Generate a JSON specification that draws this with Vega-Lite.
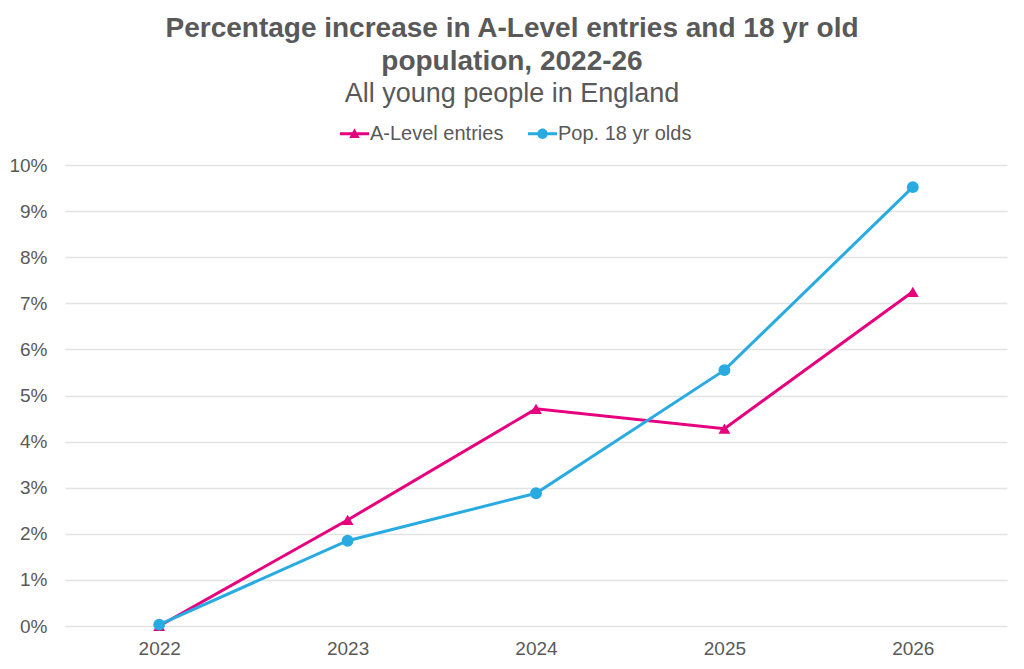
{
  "$schema": "https://vega.github.io/schema/vega-lite/v6.json",
  "width": 942,
  "height": 461,
  "autosize": {"type": "none"},
  "padding": {"left": 65, "top": 165, "right": 17, "bottom": 43},
  "background": "white",
  "title": {
    "text": ["Percentage increase in A-Level entries and 18 yr old", "population, 2022-26"],
    "subtitle": "All young people in England",
    "anchor": "middle",
    "frame": "group",
    "dx": -24,
    "offset": 12,
    "font": "Liberation Sans",
    "fontSize": 28,
    "fontWeight": "bold",
    "color": "#595959",
    "lineHeight": 33,
    "subtitleFont": "Liberation Sans",
    "subtitleFontSize": 27,
    "subtitleColor": "#595959",
    "subtitlePadding": 5
  },
  "data": {
    "values": [
      {"year": "2022", "series": "A-Level entries", "value": 0.0},
      {"year": "2023", "series": "A-Level entries", "value": 0.0230},
      {"year": "2024", "series": "A-Level entries", "value": 0.0471},
      {"year": "2025", "series": "A-Level entries", "value": 0.0428},
      {"year": "2026", "series": "A-Level entries", "value": 0.0725},
      {"year": "2022", "series": "Pop. 18 yr olds", "value": 0.0003},
      {"year": "2023", "series": "Pop. 18 yr olds", "value": 0.0185},
      {"year": "2024", "series": "Pop. 18 yr olds", "value": 0.0288},
      {"year": "2025", "series": "Pop. 18 yr olds", "value": 0.0555},
      {"year": "2026", "series": "Pop. 18 yr olds", "value": 0.0952}
    ]
  },
  "encoding": {
    "x": {
      "field": "year",
      "type": "ordinal",
      "scale": {"type": "point", "padding": 0.5},
      "axis": {
        "title": null,
        "labelAngle": 0,
        "domain": false,
        "ticks": false,
        "labelPadding": 13,
        "labelFont": "Liberation Sans",
        "labelFontSize": 19,
        "labelColor": "#595959"
      }
    },
    "y": {
      "field": "value",
      "type": "quantitative",
      "scale": {"domain": [0, 0.1], "nice": false},
      "axis": {
        "title": null,
        "values": [0, 0.01, 0.02, 0.03, 0.04, 0.05, 0.06, 0.07, 0.08, 0.09, 0.1],
        "format": ".0%",
        "domain": false,
        "ticks": false,
        "labelPadding": 18,
        "labelFont": "Liberation Sans",
        "labelFontSize": 19,
        "labelColor": "#595959",
        "gridColor": "#e3e3e3",
        "gridWidth": 1.3
      }
    },
    "color": {
      "field": "series",
      "type": "nominal",
      "scale": {"domain": ["A-Level entries", "Pop. 18 yr olds"], "range": ["#e6007e", "#29abe2"]},
      "legend": {
        "title": null,
        "orient": "none",
        "legendX": 275,
        "legendY": -46,
        "direction": "horizontal",
        "symbolSize": 841,
        "labelFont": "Liberation Sans",
        "labelFontSize": 20,
        "labelColor": "#595959",
        "labelOffset": 1,
        "columnPadding": 24,
        "encode": {
          "symbols": {
            "update": {
              "shape": {"signal": "datum.value === 'A-Level entries' ? 'M-1,-0.1H1V0.1H-1Z M0,-0.38L0.36,0.3H-0.36Z' : 'M-1,-0.1H1V0.1H-1Z M0.36,0A0.36,0.36 0 1,1 -0.36,0A0.36,0.36 0 1,1 0.36,0Z'"},
              "fill": {"scale": "color", "field": "value"},
              "fillOpacity": {"value": 1},
              "strokeWidth": {"value": 0}
            }
          }
        }
      }
    }
  },
  "layer": [
    {
      "mark": {"type": "line", "strokeWidth": 3}
    },
    {
      "transform": [{"filter": "datum.series === 'A-Level entries'"}],
      "mark": {"type": "point", "shape": "triangle-up", "filled": true, "opacity": 1, "size": 140}
    },
    {
      "transform": [{"filter": "datum.series === 'Pop. 18 yr olds'"}],
      "mark": {"type": "point", "shape": "circle", "filled": true, "opacity": 1, "size": 140}
    }
  ],
  "config": {
    "view": {"stroke": null},
    "font": "Liberation Sans"
  }
}
